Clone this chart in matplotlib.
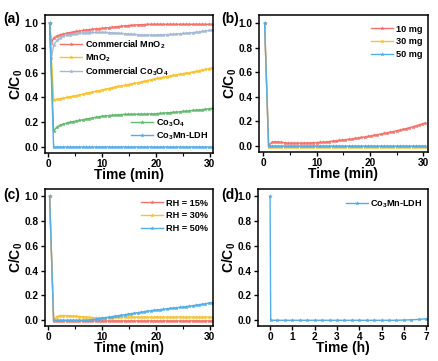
import numpy as np
import matplotlib
matplotlib.use("Agg")
import matplotlib.pyplot as plt
from matplotlib.ticker import MultipleLocator

plt.rcParams['font.family'] = ['Liberation Sans', 'DejaVu Sans']
plt.rcParams['font.weight'] = 'bold'
plt.rcParams['mathtext.fontset'] = 'custom'
plt.rcParams['mathtext.rm'] = 'Liberation Sans:bold'
plt.rcParams['mathtext.bf'] = 'Liberation Sans:bold'
plt.rcParams['mathtext.it'] = 'Liberation Sans:bold'

# ---------------- data ----------------
# time grid (min) for curves with a dip right after the start
t_dip = np.round(np.concatenate([[0.25, 0.6], 1.0 + 0.6 * np.arange(50)]), 2)
# time grid (min) for curves that drop straight down
t_min = np.round(np.concatenate([[0.25], 1.0 + 0.6 * np.arange(50)]), 2)

a_comm_mno2 = [1.0, 0.84, 0.88, 0.895, 0.905, 0.912, 0.918, 0.923, 0.928, 0.932,
               0.936, 0.94, 0.944, 0.947, 0.95, 0.953, 0.955, 0.957, 0.96, 0.963,
               0.966, 0.969, 0.972, 0.975, 0.978, 0.98, 0.982, 0.984, 0.986, 0.987,
               0.988, 0.989, 0.99, 0.99, 0.99, 0.99, 0.99, 0.99, 0.99, 0.99,
               0.99, 0.99, 0.99, 0.99, 0.99, 0.99, 0.99, 0.99, 0.99, 0.99,
               0.99, 0.99]
a_comm_co3o4 = [1.0, 0.72, 0.82, 0.86, 0.88, 0.895, 0.902, 0.907, 0.912, 0.915,
                0.918, 0.92, 0.922, 0.923, 0.924, 0.925, 0.925, 0.925, 0.924, 0.923,
                0.922, 0.92, 0.918, 0.916, 0.914, 0.912, 0.91, 0.908, 0.906, 0.905,
                0.904, 0.903, 0.903, 0.903, 0.904, 0.905, 0.906, 0.907, 0.908, 0.91,
                0.912, 0.914, 0.916, 0.918, 0.92, 0.923, 0.926, 0.929, 0.932, 0.936,
                0.94, 0.944]
a_mno2 = [1.0, 0.38, 0.385, 0.39, 0.395, 0.40, 0.405, 0.41, 0.415,
          0.42, 0.426, 0.432, 0.438, 0.444, 0.45, 0.455, 0.46, 0.466, 0.472,
          0.478, 0.484, 0.489, 0.494, 0.499, 0.504, 0.509, 0.514, 0.519, 0.524,
          0.53, 0.536, 0.542, 0.548, 0.553, 0.558, 0.563, 0.568, 0.573, 0.578,
          0.583, 0.588, 0.592, 0.596, 0.60, 0.605, 0.61, 0.615, 0.62, 0.626,
          0.632, 0.638]
a_co3o4 = [1.0, 0.13, 0.16, 0.175, 0.185, 0.193, 0.20, 0.205, 0.21,
           0.215, 0.22, 0.225, 0.23, 0.235, 0.24, 0.244, 0.248, 0.251, 0.254,
           0.256, 0.258, 0.26, 0.262, 0.263, 0.264, 0.264, 0.265, 0.265, 0.266,
           0.266, 0.267, 0.267, 0.268, 0.27, 0.272, 0.274, 0.276, 0.278, 0.28,
           0.282, 0.284, 0.287, 0.29, 0.292, 0.295, 0.297, 0.30, 0.302, 0.305,
           0.308, 0.311]
a_ldh = [1.0, 0.0, 0.0, 0.0, 0.0, 0.0, 0.0, 0.0, 0.0,
         0.0, 0.0, 0.0, 0.0, 0.0, 0.0, 0.0, 0.0, 0.0, 0.0,
         0.0, 0.0, 0.0, 0.0, 0.0, 0.0, 0.0, 0.0, 0.0, 0.0,
         0.0, 0.0, 0.0, 0.0, 0.0, 0.0, 0.0, 0.0, 0.0, 0.0,
         0.0, 0.0, 0.0, 0.0, 0.0, 0.0, 0.0, 0.0, 0.0, 0.0,
         0.0, 0.0]

b_10mg = [1.0, 0.005, 0.03, 0.036, 0.034, 0.03, 0.027, 0.025, 0.024,
          0.024, 0.024, 0.024, 0.025, 0.025, 0.026, 0.027, 0.028, 0.03, 0.032,
          0.034, 0.037, 0.04, 0.043, 0.046, 0.049, 0.052, 0.055, 0.058, 0.062,
          0.066, 0.07, 0.074, 0.078, 0.083, 0.088, 0.093, 0.098, 0.103, 0.108,
          0.113, 0.118, 0.124, 0.13, 0.136, 0.142, 0.149, 0.156, 0.163, 0.171,
          0.179, 0.188]
b_30mg = [1.0, -0.004, -0.004, -0.004, -0.004, -0.004, -0.004, -0.004, -0.004,
          -0.004, -0.004, -0.004, -0.004, -0.004, -0.004, -0.004, -0.004, -0.004, -0.004,
          -0.004, -0.004, -0.004, -0.004, -0.004, -0.004, -0.004, -0.004, -0.004, -0.004,
          -0.004, -0.004, -0.004, -0.004, -0.004, -0.004, -0.004, -0.004, -0.004, -0.004,
          -0.004, -0.004, -0.004, -0.004, -0.004, -0.004, -0.004, -0.004, -0.004, -0.004,
          -0.004, -0.004]
b_50mg = [1.0, 0.0, 0.0, 0.0, 0.0, 0.0, 0.0, 0.0, 0.0,
          0.0, 0.0, 0.0, 0.0, 0.0, 0.0, 0.0, 0.0, 0.0, 0.0,
          0.0, 0.0, 0.0, 0.0, 0.0, 0.0, 0.0, 0.0, 0.0, 0.0,
          0.0, 0.0, 0.0, 0.0, 0.0, 0.0, 0.0, 0.0, 0.0, 0.0,
          0.0, 0.0, 0.0, 0.0, 0.0, 0.0, 0.0, 0.0, 0.0, 0.0,
          0.0, 0.0]

c_rh15 = [1.0, -0.005, -0.005, -0.005, -0.005, -0.005, -0.005, -0.005, -0.005,
          -0.005, -0.005, -0.005, -0.005, -0.005, -0.005, -0.005, -0.005, -0.005, -0.005,
          -0.005, -0.005, -0.005, -0.005, -0.005, -0.005, -0.005, -0.005, -0.005, -0.005,
          -0.005, -0.005, -0.005, -0.005, -0.005, -0.005, -0.005, -0.005, -0.005, -0.005,
          -0.005, -0.005, -0.005, -0.005, -0.005, -0.005, -0.005, -0.005, -0.005, -0.005,
          -0.005, -0.005]
c_rh30 = [1.0, 0.005, 0.03, 0.038, 0.038, 0.037, 0.036, 0.034, 0.032,
          0.03, 0.028, 0.026, 0.024, 0.022, 0.021, 0.02, 0.02, 0.02, 0.021,
          0.022, 0.023, 0.024, 0.025, 0.025, 0.025, 0.025, 0.025, 0.025, 0.025,
          0.025, 0.025, 0.025, 0.025, 0.025, 0.025, 0.025, 0.025, 0.025, 0.025,
          0.025, 0.025, 0.025, 0.025, 0.025, 0.025, 0.025, 0.025, 0.025, 0.025,
          0.025, 0.025]
c_rh50 = [1.0, 0.0, 0.0, 0.0, 0.0, 0.0, 0.0, 0.0, 0.0,
          0.0, 0.0, 0.001, 0.003, 0.006, 0.009, 0.013, 0.017, 0.021, 0.025,
          0.029, 0.033, 0.037, 0.041, 0.045, 0.049, 0.053, 0.057, 0.061, 0.065,
          0.069, 0.073, 0.077, 0.08, 0.083, 0.086, 0.089, 0.092, 0.095, 0.098,
          0.101, 0.104, 0.107, 0.11, 0.113, 0.117, 0.121, 0.125, 0.129, 0.133,
          0.138, 0.143]

# panel d time grid (h)
t_h = np.round(np.concatenate([[0.0, 0.03], np.arange(1, 22) / 3.0]), 3)
d_ldh = [1.0, 0.0, 0.0, 0.0, 0.0, 0.0, 0.0, 0.0, 0.0, 0.0,
         0.0, 0.0, 0.0, 0.0, 0.0, 0.0, 0.0, 0.0, 0.0, 0.002,
         0.004, 0.007, 0.012]

RED = '#F4726B'
YEL = '#F9C22E'
GRB = '#A3B9D6'
GRN = '#63B96E'
BLU = '#52AEE8'

W, H = 439, 361
fig = plt.figure(figsize=(W / 100, H / 100), dpi=100)


def mkax(l, t, r, b):
    return fig.add_axes([l / W, 1 - b / H, (r - l) / W, (b - t) / H])


axa = mkax(45, 15, 213, 153)
axb = mkax(259, 15, 428, 152)
axc = mkax(45, 189, 213, 326)
axd = mkax(258, 189, 428, 326)

kw = dict(lw=1.0, marker='*', ms=2.6, markeredgewidth=0.3)


def style(ax, xlim, ylim, xticks, xlabel, minor):
    ax.set_xlim(*xlim)
    ax.set_ylim(*ylim)
    ax.set_xticks(xticks)
    if minor:
        ax.xaxis.set_minor_locator(MultipleLocator(minor))
    ax.set_yticks([0.0, 0.2, 0.4, 0.6, 0.8, 1.0])
    ax.set_yticklabels(['0.0', '0.2', '0.4', '0.6', '0.8', '1.0'])
    for s in ax.spines.values():
        s.set_linewidth(1.1)
    ax.tick_params(direction='out', length=3, width=1.0, labelsize=7.3, pad=1.5)
    ax.tick_params(which='minor', direction='out', length=1.8, width=0.8)
    for lab in ax.get_xticklabels() + ax.get_yticklabels():
        lab.set_fontweight('bold')
    ax.set_xlabel(xlabel, fontsize=10, fontweight='bold', labelpad=-1)
    ax.set_ylabel(r'C/C$_{0}$', fontsize=10, fontweight='bold', labelpad=0)


# (a)
la1 = axa.plot(t_dip, a_comm_mno2, color=RED, label=r'Commercial MnO$_2$', **kw)[0]
la2 = axa.plot(t_min, a_mno2, color=YEL, label=r'MnO$_2$', **kw)[0]
la3 = axa.plot(t_dip, a_comm_co3o4, color=GRB, label=r'Commercial Co$_3$O$_4$', **kw)[0]
la4 = axa.plot(t_min, a_co3o4, color=GRN, label=r'Co$_3$O$_4$', **kw)[0]
la5 = axa.plot(t_min, a_ldh, color=BLU, label=r'Co$_3$Mn-LDH', **kw)[0]
style(axa, (-0.6, 30.6), (-0.048, 1.065), [0, 10, 20, 30], 'Time (min)', 5)
leg_kw = dict(frameon=False, fontsize=6.6, handlelength=2.4, handletextpad=0.3,
              labelspacing=0.15, borderpad=0, borderaxespad=0)
leg_kw2 = dict(leg_kw, labelspacing=0.42)
lg1 = axa.legend(handles=[la1, la2, la3], loc='upper left', bbox_to_anchor=(0.09, 0.83), **leg_kw)
axa.add_artist(lg1)
axa.legend(handles=[la4, la5], loc='lower right', bbox_to_anchor=(0.97, 0.08), **leg_kw)

# (b)
axb.plot(t_min, b_10mg, color=RED, label='10 mg', **kw)
axb.plot(t_min, b_30mg, color=YEL, label='30 mg', **kw)
axb.plot(t_min, b_50mg, color=BLU, label='50 mg', **kw)
style(axb, (-0.8, 30.9), (-0.048, 1.065), [0, 10, 20, 30], 'Time (min)', 5)
axb.legend(loc='upper right', bbox_to_anchor=(0.965, 0.93), **leg_kw2)

# (c)
axc.plot(t_min, c_rh15, color=RED, label='RH = 15%', **kw)
axc.plot(t_min, c_rh30, color=YEL, label='RH = 30%', **kw)
axc.plot(t_min, c_rh50, color=BLU, label='RH = 50%', **kw)
style(axc, (-0.6, 30.6), (-0.046, 1.056), [0, 10, 20, 30], 'Time (min)', 5)
axc.legend(loc='upper right', bbox_to_anchor=(0.97, 0.93), **leg_kw2)

# (d)
axd.plot(t_h, d_ldh, color=BLU, label=r'Co$_3$Mn-LDH', **kw)
style(axd, (-0.54, 7.08), (-0.046, 1.056), [0, 1, 2, 3, 4, 5, 6, 7], 'Time (h)', None)
axd.legend(loc='upper right', bbox_to_anchor=(0.97, 0.93), **leg_kw)

for txt, x, y in [('(a)', 3, 19), ('(b)', 221, 19), ('(c)', 3, 195), ('(d)', 221, 195)]:
    fig.text(x / W, 1 - y / H, txt, fontsize=10, fontweight='bold', va='center', ha='left')

fig.savefig('out.png', dpi=100)
